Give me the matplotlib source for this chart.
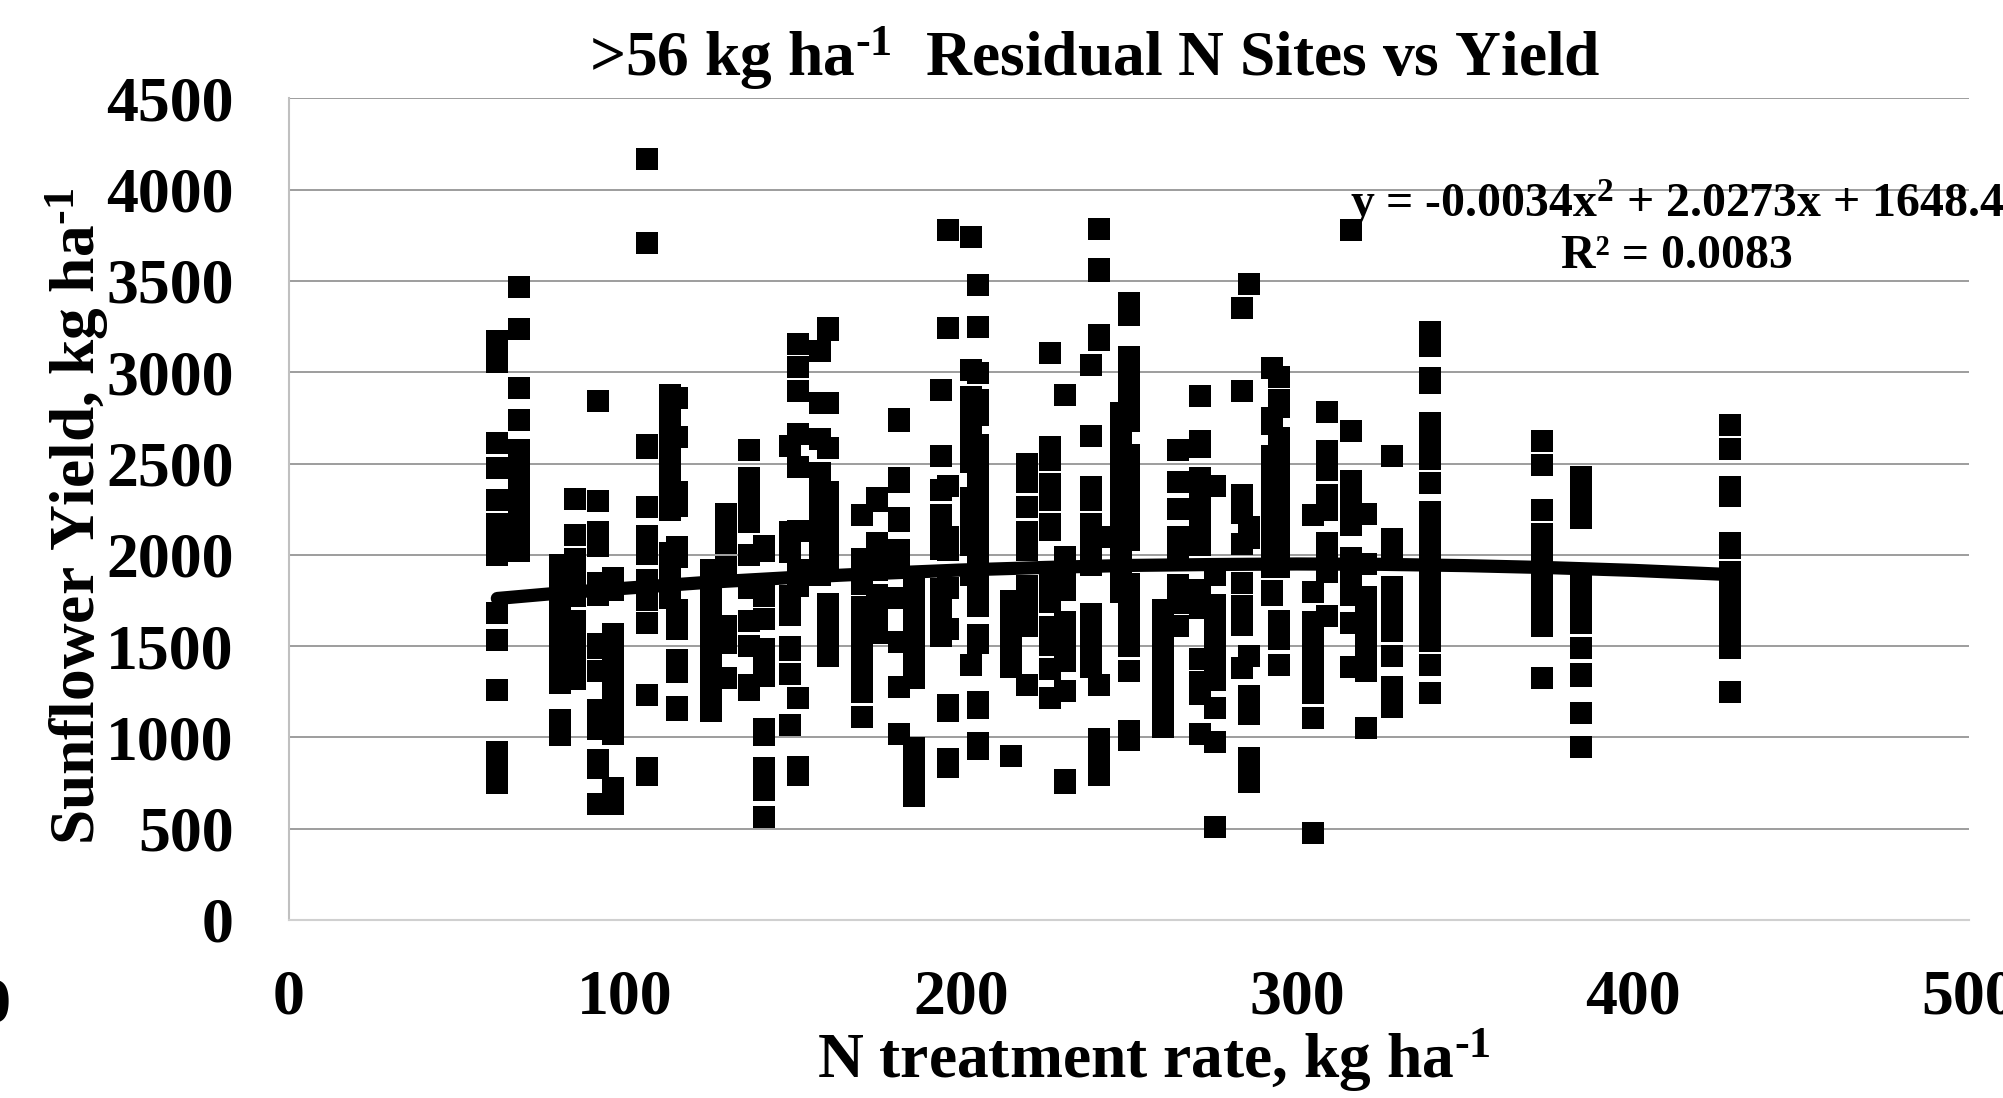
import matplotlib
matplotlib.use("Agg")
import matplotlib.pyplot as plt

plt.rcParams['font.family'] = ['Liberation Serif', 'DejaVu Serif']
plt.rcParams['font.weight'] = 'bold'
plt.rcParams['mathtext.fontset'] = 'custom'
plt.rcParams['mathtext.rm'] = 'Liberation Serif:bold'
plt.rcParams['mathtext.default'] = 'rm'

# N rate of each column of points
rates = [62, 68.5, 80.7, 85, 92, 96.4, 106.5, 113.4, 115.4, 125.6, 130, 137, 141.4, 149, 151.5,
         158, 160.4, 170.5, 175, 181.5, 186, 194, 196, 203, 205, 215, 219.6, 226.5, 231, 238.7,
         241, 247.6, 250, 260, 264.6, 271, 275.6, 283.6, 285.7, 292.6, 294.6, 304.8, 309, 316,
         320.5, 328.3, 339.6, 373, 384.5, 429]

# yield values for each rate, same order
yields = [
    [3171, 3056, 2612, 2476, 2300, 2169, 2059, 2000, 1681, 1534, 1260, 920, 810, 750],
    [3467, 3237, 2914, 2739, 2574, 2465, 2355, 2246, 2136, 2021],
    [1944, 1835, 1725, 1616, 1506, 1397, 1298, 1095, 1013],
    [2306, 2109, 1977, 1873, 1775, 1638, 1534, 1424, 1320],
    [2843, 2295, 2125, 2048, 1846, 1780, 1512, 1490, 1364, 1150, 1046, 876, 832, 635],
    [1873, 1807, 1566, 1457, 1347, 1238, 1128, 1019, 723, 635],
    [4168, 3708, 2602, 2585, 2262, 2103, 2005, 1862, 1753, 1627, 1232, 832, 794],
    [2875, 2766, 2656, 2547, 2437, 2328, 2246, 2010, 1977, 1862, 1764],
    [2859, 2645, 2344, 2268, 2043, 1988, 1698, 1594, 1424, 1358, 1167, 1150],
    [1916, 1816, 1715, 1615, 1514, 1414, 1313, 1213, 1147],
    [2224, 2128, 2066, 1934, 1611, 1518, 1326],
    [2575, 2421, 2321, 2220, 2181, 2000, 1817, 1635, 1502, 1288, 1260],
    [2049, 2022, 1775, 1649, 1485, 1401, 1339, 1047, 1014, 833, 773, 713, 564],
    [2596, 2126, 2016, 1775, 1671, 1496, 1480, 1350, 1069],
    [3155, 3029, 2898, 2662, 2480, 2131, 1918, 1827, 1217, 839, 795],
    [3117, 2832, 2635, 2450, 2345, 2244, 2144, 2137, 2037, 1936, 1890],
    [3243, 3232, 2832, 2586, 2345, 2244, 2144, 2137, 2037, 1936, 1731, 1631, 1530, 1446],
    [2219, 1978, 1841, 1715, 1615, 1514, 1414, 1313, 1249, 1112],
    [2312, 2295, 2065, 1964, 1918, 1781, 1680, 1571],
    [2744, 2733, 2421, 2400, 2202, 2186, 2027, 1927, 1763, 1525, 1276, 1019],
    [1812, 1711, 1611, 1511, 1410, 1326, 943, 842, 741, 681],
    [2903, 2542, 2356, 2219, 2200, 2131, 2031, 1812, 1711, 1611, 1558],
    [3780, 3243, 2377, 2099, 2029, 1816, 1596, 1178, 1145, 882, 839],
    [3741, 3013, 2865, 2765, 2664, 2564, 2507, 2313, 2213, 2155, 2055, 1890, 1397],
    [3478, 3248, 2996, 2848, 2766, 2602, 2501, 2401, 2301, 2200, 2155, 2055, 1955, 1830, 1722,
     1562, 1518, 1195, 1162, 970, 937],
    [1748, 1648, 1547, 1447, 1383, 899],
    [2498, 2397, 2260, 2125, 2126, 2024, 1830, 1730, 1613, 1288],
    [3106, 2591, 2520, 2388, 2301, 2169, 2137, 1900, 1799, 1741, 1606, 1505, 1375, 1217],
    [2876, 1989, 1867, 1805, 1633, 1533, 1421, 1255, 767, 751],
    [3040, 2652, 2369, 2301, 2169, 2155, 2055, 1942, 1677, 1576, 1476, 1386],
    [3785, 3566, 3555, 3205, 3178, 2095, 1288, 992, 892, 795],
    [2777, 2677, 2577, 2547, 2447, 2346, 2246, 2155, 2055, 1955, 1845, 1795],
    [3380, 3314, 3084, 2984, 2883, 2783, 2733, 2547, 2447, 2346, 2246, 2146, 2137, 2079, 1838,
     1739, 1638, 1538, 1498, 1365, 1036, 987],
    [1699, 1598, 1498, 1397, 1297, 1197, 1096, 1058],
    [2575, 2399, 2251, 2099, 2037, 1836, 1735, 1613],
    [2871, 2624, 2591, 2421, 2321, 2220, 2155, 2055, 1808, 1710, 1430, 1304, 1239, 1019],
    [2377, 1887, 1726, 1626, 1525, 1425, 1315, 1162, 976, 510],
    [3353, 2898, 2328, 2228, 2058, 1848, 1722, 1617, 1381],
    [3484, 2153, 2146, 2093, 1447, 1228, 1130, 888, 822, 757],
    [3024, 2750, 2717, 2542, 2441, 2341, 2241, 2140, 2160, 2031, 1931, 1803, 1781],
    [2975, 2848, 2810, 2640, 2540, 2440, 2339, 2239, 2138, 2131, 2031, 1931, 1638, 1538, 1397],
    [2219, 1797, 1633, 1533, 1432, 1332, 1244, 1107, 478],
    [2783, 2569, 2465, 2328, 2246, 2066, 1965, 1905, 1666],
    [3780, 2679, 2405, 2304, 2204, 2164, 1984, 1883, 1781, 1627, 1386],
    [2224, 1951, 1770, 1669, 1569, 1469, 1366, 1052],
    [2539, 2089, 1989, 1826, 1705, 1584, 1445, 1278, 1166],
    [3223, 3143, 2970, 2939, 2724, 2624, 2523, 2391, 2233, 2132, 2031, 1931, 1830, 1729, 1629,
     1528, 1398, 1246],
    [2622, 2490, 2244, 2116, 2016, 1915, 1814, 1714, 1613, 1327],
    [2429, 2320, 2203, 1857, 1738, 1629, 1492, 1345, 1336, 1135, 947],
    [2713, 2577, 2373, 2324, 2063, 2036, 1904, 1803, 1703, 1602, 1488, 1251],
]

# fitted curve as it reads off the chart
trend_x = [62, 80, 100, 125, 150, 175, 200, 225, 250, 275, 300, 325, 350, 375, 400, 429]
trend_y = [1761, 1790, 1817, 1850, 1876, 1898, 1917, 1931, 1942, 1947, 1950, 1948, 1941, 1930, 1915, 1892]

x_ticks = [0, 100, 200, 300, 400, 500]
y_ticks = [0, 500, 1000, 1500, 2000, 2500, 3000, 3500, 4000, 4500]

fig = plt.figure(figsize=(20.03, 10.98), dpi=100)
ax = fig.add_axes([289 / 2003, 1 - 920 / 1098, (1969 - 289) / 2003, (920 - 98.4) / 1098])

xs = []
ys = []
for rate, vals in zip(rates, yields):
    xs += [rate] * len(vals)
    ys += vals

ax.plot(xs, ys, linestyle='none', marker='s', markersize=15.8, markeredgewidth=0, color='black', zorder=3, clip_on=False)
ax.plot(trend_x, trend_y, color='black', linewidth=9.5, solid_capstyle='round', zorder=4)

ax.set_xlim(0, 500)
ax.set_ylim(0, 4500)
ax.set_xticks(x_ticks)
ax.set_yticks(y_ticks)
ax.tick_params(axis='both', length=0, labelsize=46)
ax.tick_params(axis='x', pad=36)
ax.tick_params(axis='y', pad=40)
ax.grid(axis='y', color='#8c8c8c', linewidth=1.2, zorder=1)
ax.set_axisbelow(True)
for side in ['top', 'right']:
    ax.spines[side].set_visible(False)
ax.spines['left'].set_color('#c0c0c0')
ax.spines['bottom'].set_color('#d0d0d0')
ax.spines['left'].set_linewidth(1.5)
ax.spines['bottom'].set_linewidth(1.5)

# the axis really starts further left, only the end of this label shows
ax.text(-100, -0.105, "-100", transform=ax.get_xaxis_transform(), ha='center', va='center', fontsize=46, clip_on=False)

fig.text(1095 / 2003, 1 - 58 / 1098, ">56 kg ha$^{\\text{-1}}$  Residual N Sites vs Yield", ha='center', va='center', fontsize=45.7)
fig.text(1154 / 2003, 1 - 1060 / 1098, "N treatment rate, kg ha$^{\\text{-1}}$", ha='center', va='center', fontsize=45.7)
fig.text(77 / 2003, 1 - 517 / 1098, "Sunflower Yield, kg ha$^{\\text{-1}}$", ha='center', va='center', rotation=90, fontsize=45.6)
fig.text(1677 / 2003, 1 - 203 / 1098, "y = -0.0034x$^{2}$ + 2.0273x + 1648.4", ha='center', va='center', fontsize=34.4)
fig.text(1677 / 2003, 1 - 256 / 1098, "R\u00b2 = 0.0083", ha='center', va='center', fontsize=34.4)

fig.savefig("out.png", dpi=100)
